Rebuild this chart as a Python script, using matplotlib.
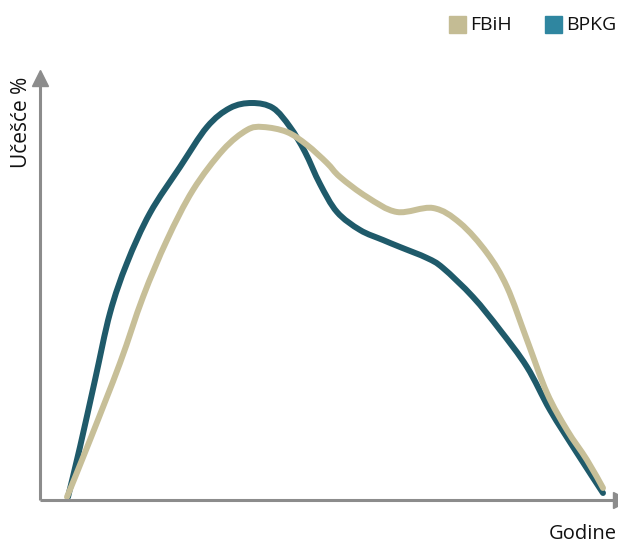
import matplotlib
matplotlib.use("Agg")
import matplotlib.pyplot as plt
from matplotlib.patches import Rectangle, PathPatch
from matplotlib.path import Path

plt.rcParams['font.family'] = ['Open Sans', 'DejaVu Sans']

# values (x: position along years axis, y: share)
fbih_x = [27, 50, 80, 103, 127, 153, 183, 207, 223, 247, 267, 287, 300, 327, 357, 393,
          420, 447, 467, 487, 507, 527, 547, 563]
fbih_y = [3, 60, 137, 203, 260, 310, 350, 370, 373, 368, 355, 337, 323, 303, 288, 292,
          277, 247, 213, 160, 107, 70, 40, 12]

bpkg_x = [28, 40, 55, 70, 87, 110, 140, 167, 190, 212, 233, 250, 265, 280, 297, 320,
          343, 360, 387, 403, 433, 460, 487, 510, 537, 563]
bpkg_y = [3, 53, 120, 187, 237, 287, 333, 373, 392, 397, 392, 373, 348, 316, 288, 270,
          260, 253, 242, 232, 203, 170, 133, 90, 47, 7]

series = ["FBiH", "BPKG"]
line_colors = ["#c7bf98", "#1f5a6a"]
legend_colors = ["#c4bc94", "#2f86a0"]


def smooth_path(xs, ys):
    # catmull-rom through the points, drawn as cubic bezier segments
    pts = list(zip(xs, ys))
    verts = [pts[0]]
    codes = [Path.MOVETO]
    for i in range(len(pts) - 1):
        p0 = pts[i - 1] if i > 0 else pts[i]
        p1 = pts[i]
        p2 = pts[i + 1]
        p3 = pts[i + 2] if i + 2 < len(pts) else pts[i + 1]
        c1 = (p1[0] + (p2[0] - p0[0]) / 6, p1[1] + (p2[1] - p0[1]) / 6)
        c2 = (p2[0] - (p3[0] - p1[0]) / 6, p2[1] - (p3[1] - p1[1]) / 6)
        verts += [c1, c2, p2]
        codes += [Path.CURVE4] * 3
    return Path(verts, codes)


fig = plt.figure(figsize=(6.18, 5.43), dpi=100)
ax = fig.add_axes([40 / 618, 43 / 543, 578 / 618, 470 / 543])
ax.set_xlim(0, 578)
ax.set_ylim(0, 470)
ax.axis("off")

axis_col = "#8c8c8c"
ax.plot([0, 578], [0, 0], color=axis_col, lw=2.2, clip_on=False, solid_capstyle="butt")
ax.plot([0, 0], [0, 420], color=axis_col, lw=2.2, clip_on=False, solid_capstyle="butt")
ax.plot(0, 422, marker="^", ms=11, color=axis_col, clip_on=False)
ax.plot(581, 0, marker=">", ms=11, color=axis_col, clip_on=False)

for xs, ys, col in [(bpkg_x, bpkg_y, line_colors[1]), (fbih_x, fbih_y, line_colors[0])]:
    ax.add_patch(PathPatch(smooth_path(xs, ys), facecolor="none", edgecolor=col, lw=4.3,
                           capstyle="round", joinstyle="round", clip_on=False))

fig.text(22 / 618, 1 - 122 / 543, "Učešće %", rotation=90, ha="center", va="center",
         fontsize=15, color="#111111")
fig.text(617 / 618, 1 - 534 / 543, "Godine", ha="right", va="center",
         fontsize=14.5, color="#111111")

# legend
legend_x = [449, 545]
for name, col, lx in zip(series, legend_colors, legend_x):
    fig.patches.append(Rectangle((lx / 618, 1 - 33 / 543), 17 / 618, 17 / 543,
                                 transform=fig.transFigure, color=col))
    fig.text((lx + 21) / 618, 1 - 25 / 543, name, ha="left", va="center",
             fontsize=14, color="#111111")

fig.savefig("out.png", dpi=100)
